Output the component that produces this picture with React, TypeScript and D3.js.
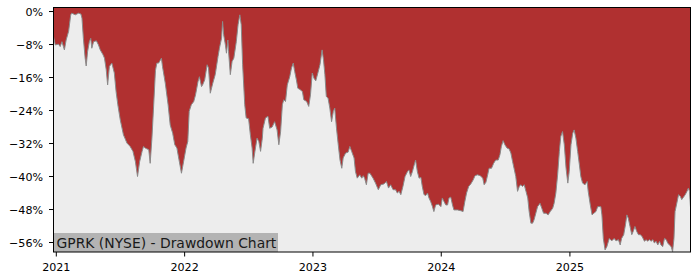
import React from "react";
import * as d3 from "d3";

const dates: string[] = [
  "2020-12-24","2020-12-29","2021-01-07","2021-01-12","2021-01-17","2021-01-24","2021-01-29","2021-02-05","2021-02-11","2021-02-14",
  "2021-02-24","2021-03-05","2021-03-12","2021-03-15","2021-03-19","2021-03-24","2021-03-27","2021-03-31","2021-04-05","2021-04-09",
  "2021-04-12","2021-04-17","2021-04-25","2021-05-01","2021-05-06","2021-05-14","2021-05-18","2021-05-23","2021-05-27","2021-06-01",
  "2021-06-08","2021-06-15","2021-06-20","2021-06-25","2021-07-02","2021-07-11","2021-07-21","2021-07-30","2021-08-07","2021-08-14",
  "2021-08-20","2021-08-26","2021-09-02","2021-09-06","2021-09-11","2021-09-21","2021-09-25","2021-09-30","2021-10-05","2021-10-10",
  "2021-10-14","2021-10-19","2021-10-27","2021-10-30","2021-11-07","2021-11-15","2021-11-21","2021-11-28","2021-12-04","2021-12-10",
  "2021-12-17","2021-12-23","2021-12-29","2022-01-05","2022-01-10","2022-01-14","2022-01-20","2022-01-27","2022-02-01","2022-02-08",
  "2022-02-12","2022-02-18","2022-02-21","2022-02-27","2022-03-06","2022-03-10","2022-03-15","2022-03-22","2022-03-29","2022-04-06",
  "2022-04-10","2022-04-16","2022-04-19","2022-04-22","2022-04-27","2022-04-30","2022-05-04","2022-05-06","2022-05-11","2022-05-16",
  "2022-05-21","2022-05-28","2022-06-02","2022-06-07","2022-06-11","2022-06-15","2022-06-21","2022-06-25","2022-07-02","2022-07-07",
  "2022-07-12","2022-07-15","2022-07-20","2022-07-26","2022-07-31","2022-08-05","2022-08-10","2022-08-12","2022-08-19","2022-08-26",
  "2022-08-31","2022-09-07","2022-09-14","2022-09-21","2022-09-26","2022-10-01","2022-10-06","2022-10-10","2022-10-15","2022-10-20",
  "2022-10-27","2022-11-01","2022-11-06","2022-11-10","2022-11-15","2022-11-19","2022-11-25","2022-12-02","2022-12-06","2022-12-14",
  "2022-12-20","2022-12-25","2022-12-30","2023-01-04","2023-01-09","2023-01-15","2023-01-21","2023-01-27","2023-01-31","2023-02-04",
  "2023-02-08","2023-02-13","2023-02-18","2023-02-23","2023-02-28","2023-03-04","2023-03-09","2023-03-14","2023-03-19","2023-03-24",
  "2023-03-28","2023-04-04","2023-04-11","2023-04-16","2023-04-21","2023-04-28","2023-05-02","2023-05-07","2023-05-14","2023-05-20",
  "2023-05-24","2023-05-28","2023-06-02","2023-06-07","2023-06-12","2023-06-21","2023-06-28","2023-07-06","2023-07-13","2023-07-22",
  "2023-07-29","2023-08-04","2023-08-10","2023-08-17","2023-08-24","2023-08-29","2023-09-03","2023-09-08","2023-09-14","2023-09-20",
  "2023-09-27","2023-10-01","2023-10-06","2023-10-11","2023-10-16","2023-10-20","2023-10-25","2023-10-30","2023-11-04","2023-11-08",
  "2023-11-13","2023-11-18","2023-11-23","2023-11-27","2023-12-02","2023-12-07","2023-12-11","2023-12-16","2023-12-24","2023-12-31",
  "2024-01-04","2024-01-09","2024-01-14","2024-01-19","2024-01-23","2024-01-28","2024-02-02","2024-02-06","2024-02-16","2024-02-26",
  "2024-03-03","2024-03-08","2024-03-13","2024-03-19","2024-03-25","2024-04-01","2024-04-06","2024-04-13","2024-04-21","2024-04-28",
  "2024-05-02","2024-05-07","2024-05-12","2024-05-16","2024-05-23","2024-05-29","2024-06-04","2024-06-11","2024-06-16","2024-06-20",
  "2024-06-25","2024-06-30","2024-07-06","2024-07-12","2024-07-17","2024-07-22","2024-07-26","2024-07-31","2024-08-05","2024-08-10",
  "2024-08-14","2024-08-19","2024-08-24","2024-08-29","2024-09-03","2024-09-07","2024-09-12","2024-09-17","2024-09-21","2024-09-26",
  "2024-10-01","2024-10-08","2024-10-13","2024-10-18","2024-10-25","2024-10-31","2024-11-06","2024-11-13","2024-11-17","2024-11-22",
  "2024-11-27","2024-12-02","2024-12-06","2024-12-11","2024-12-16","2024-12-21","2024-12-26","2024-12-30","2025-01-04","2025-01-09",
  "2025-01-13","2025-01-18","2025-01-23","2025-01-28","2025-02-01","2025-02-06","2025-02-13","2025-02-19","2025-02-22","2025-02-28",
  "2025-03-05","2025-03-10","2025-03-16","2025-03-21","2025-03-30","2025-04-02","2025-04-06","2025-04-11","2025-04-16","2025-04-23",
  "2025-04-30","2025-05-07","2025-05-12","2025-05-19","2025-05-24","2025-05-28","2025-06-03","2025-06-08","2025-06-12","2025-06-16",
  "2025-06-21","2025-06-26","2025-06-30","2025-07-05","2025-07-10","2025-07-15","2025-07-20","2025-07-25","2025-08-01","2025-08-06",
  "2025-08-10","2025-08-15","2025-08-20","2025-08-25","2025-08-29","2025-09-03","2025-09-08","2025-09-13","2025-09-17","2025-09-22",
  "2025-09-27","2025-10-02","2025-10-06","2025-10-11","2025-10-16","2025-10-20","2025-10-24","2025-10-27","2025-11-01","2025-11-06",
  "2025-11-11","2025-11-15","2025-11-20","2025-11-25","2025-11-30","2025-12-04","2025-12-07","2025-12-10"
];

const drawdown: number[] = [
  -6.1,-8.1,-7.9,-8.5,-7.3,-9.3,-6.9,-4.8,-0.8,-0.4,
  -0.8,-0.4,-0.6,-1.6,-6.5,-11.3,-13.2,-9.7,-7.3,-6.5,
  -8.9,-7.3,-7.1,-8.1,-9.3,-10.5,-11.3,-14.1,-17.8,-13.3,
  -12.5,-14.9,-19.4,-22.6,-26.3,-29.9,-31.9,-32.7,-33.9,-36.4,
  -40.0,-36.4,-33.9,-32.7,-33.1,-33.5,-36.8,-30.7,-22.6,-14.3,
  -12.5,-12.5,-11.3,-13.3,-17.4,-22.6,-27.5,-29.5,-32.3,-33.1,
  -36.4,-39.2,-36.4,-33.1,-31.5,-24.2,-22.6,-21.8,-20.2,-17.0,
  -15.8,-18.2,-17.8,-16.6,-12.9,-13.7,-19.8,-17.4,-15.3,-10.9,
  -8.9,-6.5,-2.4,-5.6,-8.1,-10.1,-6.9,-9.7,-15.3,-12.1,
  -11.3,-7.3,-3.2,-0.8,-3.2,-12.9,-22.6,-25.8,-26.0,-29.9,
  -33.1,-36.8,-33.9,-30.7,-31.5,-33.9,-30.7,-28.3,-25.8,-25.4,
  -28.3,-28.0,-26.7,-28.7,-32.3,-29.1,-22.6,-21.4,-21.8,-17.8,
  -15.8,-13.7,-12.5,-14.5,-16.6,-18.6,-18.9,-19.4,-21.4,-21.8,
  -23.0,-20.2,-14.9,-16.2,-16.8,-14.9,-12.9,-9.3,-11.7,-15.3,
  -20.6,-21.0,-23.4,-26.7,-24.2,-23.4,-28.3,-32.3,-36.0,-38.0,
  -35.5,-34.3,-34.1,-32.7,-33.9,-35.5,-38.8,-40.4,-39.6,-40.4,
  -39.8,-40.4,-42.0,-39.2,-39.2,-40.4,-41.6,-43.2,-42.0,-41.8,
  -41.2,-42.8,-42.0,-43.2,-43.2,-44.0,-43.6,-44.4,-42.4,-40.0,
  -38.8,-38.4,-40.0,-38.8,-37.2,-36.0,-38.8,-40.4,-40.2,-42.4,
  -44.4,-44.6,-44.0,-45.2,-46.1,-47.3,-48.5,-46.9,-46.7,-47.3,
  -45.2,-46.1,-46.9,-46.9,-45.2,-45.0,-46.9,-48.1,-48.1,-48.3,
  -48.5,-46.1,-44.0,-42.4,-41.8,-40.8,-39.8,-39.6,-39.8,-40.4,
  -42.0,-41.4,-39.6,-38.0,-38.0,-36.8,-36.0,-36.0,-34.7,-32.7,
  -31.3,-32.3,-33.1,-33.3,-34.3,-36.4,-38.0,-40.0,-43.6,-42.4,
  -42.0,-42.4,-42.0,-43.6,-45.2,-48.5,-51.3,-51.3,-50.5,-48.9,
  -47.3,-46.5,-47.7,-48.9,-48.9,-49.3,-48.5,-47.7,-46.5,-44.0,
  -39.6,-33.9,-30.3,-29.1,-32.3,-38.0,-41.6,-38.8,-32.3,-29.5,
  -28.7,-30.7,-33.9,-37.2,-40.0,-41.6,-42.0,-41.2,-43.6,-46.9,
  -49.3,-48.9,-48.5,-47.3,-47.3,-49.3,-55.0,-57.8,-57.0,-55.0,
  -55.6,-55.0,-55.6,-55.3,-56.6,-55.0,-54.1,-51.7,-49.3,-50.1,
  -52.1,-54.1,-53.3,-52.1,-53.3,-54.1,-54.1,-54.5,-55.7,-55.3,
  -55.7,-55.3,-55.7,-55.3,-56.1,-55.7,-56.6,-55.7,-56.6,-57.0,
  -55.0,-55.3,-56.1,-56.6,-57.0,-58.2,-55.0,-48.5,-46.5,-44.4,
  -44.8,-45.6,-45.0,-44.4,-43.6,-42.8,-43.6,-47.5
];

const yTickValues: number[] = [0, -8, -16, -24, -32, -40, -48, -56];
const xTickYears: string[] = ["2021", "2022", "2023", "2024", "2025"];
const chartTitle = "GPRK (NYSE) - Drawdown Chart";

const W = 700;
const H = 280;
const PL = 53.5;
const PR = 690.5;
const PT = 7;
const PB = 252;
const FONT = "'DejaVu Sans', sans-serif";

export default function App() {
  const parse = d3.timeParse("%Y-%m-%d");
  const data = dates.map((d, i) => ({ date: parse(d) as Date, v: drawdown[i] }));
  const x = d3
    .scaleTime()
    .domain(d3.extent(data, (d) => d.date) as [Date, Date])
    .range([PL, PR]);
  const y = d3.scaleLinear().domain([-58.3, 1.1]).range([PB, PT]);

  const redArea = d3
    .area<{ date: Date; v: number }>()
    .x((d) => x(d.date))
    .y0(PT)
    .y1((d) => y(d.v));
  const line = d3
    .line<{ date: Date; v: number }>()
    .x((d) => x(d.date))
    .y((d) => y(d.v));

  const yFmt = (v: number) => (v < 0 ? "\u2212" + Math.abs(v) : String(v)) + "%";

  return (
    <svg
      width={W}
      height={H}
      style={{ position: "absolute", left: 0, top: 0, background: "#ffffff" }}
      fontFamily={FONT}
    >
      <defs>
        <clipPath id="plotclip">
          <rect x={PL} y={PT} width={PR - PL} height={PB - PT} />
        </clipPath>
      </defs>
      <rect x={PL} y={PT} width={PR - PL} height={PB - PT} fill="#ededed" />
      <g clipPath="url(#plotclip)">
        <path d={redArea(data) || ""} fill="#b03030" />
        <path d={line(data) || ""} fill="none" stroke="#8a8a8a" strokeWidth={1} />
      </g>

      {/* title box */}
      <rect x={PL + 0.5} y={233} width={224} height={PB - 233} fill="#b3b3b3" />
      <text x={56.5} y={247.5} fontSize={13.9} fill="#1a1a1a">
        {chartTitle}
      </text>

      {/* frame */}
      <rect x={PL} y={PT + 0.5} width={PR - PL} height={PB - PT - 0.5} fill="none" stroke="#000" strokeWidth={1} />

      {/* y axis ticks */}
      {yTickValues.map((t) => (
        <g key={"y" + t}>
          <line x1={PL - 4.5} x2={PL} y1={y(t)} y2={y(t)} stroke="#000" strokeWidth={1} />
          <text x={43} y={y(t)} dy="0.36em" textAnchor="end" fontSize={11.1} fill="#000">
            {yFmt(t)}
          </text>
        </g>
      ))}

      {/* x axis ticks */}
      {xTickYears.map((yr) => {
        const xx = x(parse(yr + "-01-01") as Date);
        return (
          <g key={"x" + yr}>
            <line x1={xx} x2={xx} y1={PB} y2={PB + 4.5} stroke="#000" strokeWidth={1} />
            <text x={xx} y={271} textAnchor="middle" fontSize={11.1} fill="#000">
              {yr}
            </text>
          </g>
        );
      })}
    </svg>
  );
}
